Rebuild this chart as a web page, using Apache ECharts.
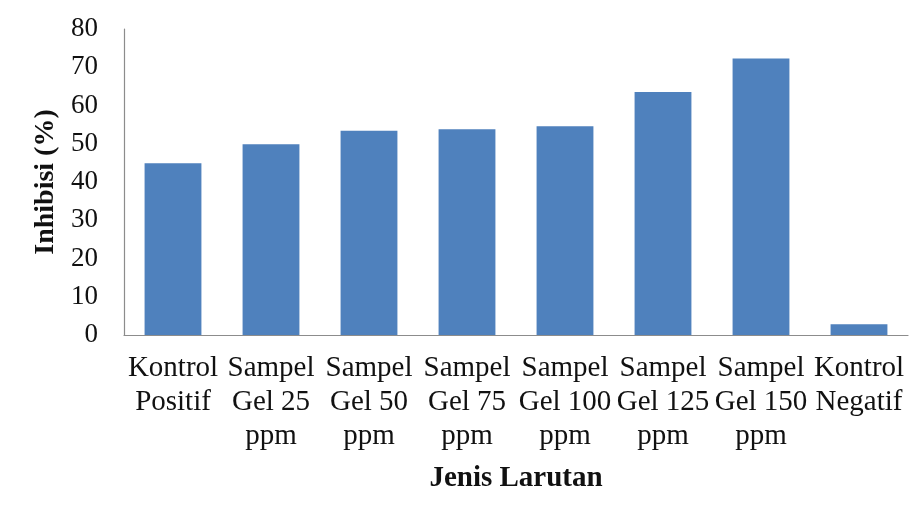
<!DOCTYPE html>
<html>
<head>
<meta charset="utf-8">
<script src="https://cdn.jsdelivr.net/npm/echarts@6/dist/echarts.min.js"></script>
<style>
html,body{margin:0;padding:0;background:#fff;}
#chart{width:910px;height:509px;}
</style>
</head>
<body>
<div id="chart"></div>
<script>
const categories = [
  'Kontrol\nPositif',
  'Sampel\nGel 25\nppm',
  'Sampel\nGel 50\nppm',
  'Sampel\nGel 75\nppm',
  'Sampel\nGel 100\nppm',
  'Sampel\nGel 125\nppm',
  'Sampel\nGel 150\nppm',
  'Kontrol\nNegatif'
];
const inhibisi = [44.9, 49.9, 53.4, 53.8, 54.6, 63.5, 72.3, 2.8];
const yTicks = { min: 0, max: 80, interval: 10 };
const xTitle = 'Jenis Larutan';
const yTitle = 'Inhibisi (%)';

const serif = "'Liberation Serif','Times New Roman',serif";
const chart = echarts.init(document.getElementById('chart'));
chart.setOption({
  backgroundColor: '#ffffff',
  animation: false,
  grid: { left: 124, right: 2, top: 29, bottom: 174, containLabel: false },
  xAxis: {
    type: 'category',
    data: categories,
    name: xTitle,
    nameLocation: 'middle',
    nameGap: 129,
    nameTextStyle: { fontFamily: serif, fontSize: 29, fontWeight: 'bold', color: '#111' },
    axisLine: { show: true, lineStyle: { color: '#8c8c8c', width: 1.2 } },
    axisTick: { show: false },
    axisLabel: {
      interval: 0,
      margin: 16,
      fontFamily: serif,
      fontSize: 29,
      lineHeight: 34,
      color: '#111'
    }
  },
  yAxis: {
    type: 'value',
    min: yTicks.min,
    max: yTicks.max,
    interval: yTicks.interval,
    name: yTitle,
    nameLocation: 'middle',
    nameGap: 56,
    nameTextStyle: { fontFamily: serif, fontSize: 28, fontWeight: 'bold', color: '#111' },
    axisLine: { show: true, lineStyle: { color: '#8c8c8c', width: 1.2 } },
    axisTick: { show: false },
    splitLine: { show: false },
    axisLabel: { margin: 26, fontFamily: serif, fontSize: 27, color: '#111' }
  },
  series: [{
    type: 'bar',
    data: inhibisi,
    barCategoryGap: '42%',
    itemStyle: { color: '#4F81BD' }
  }]
});
</script>
</body>
</html>
